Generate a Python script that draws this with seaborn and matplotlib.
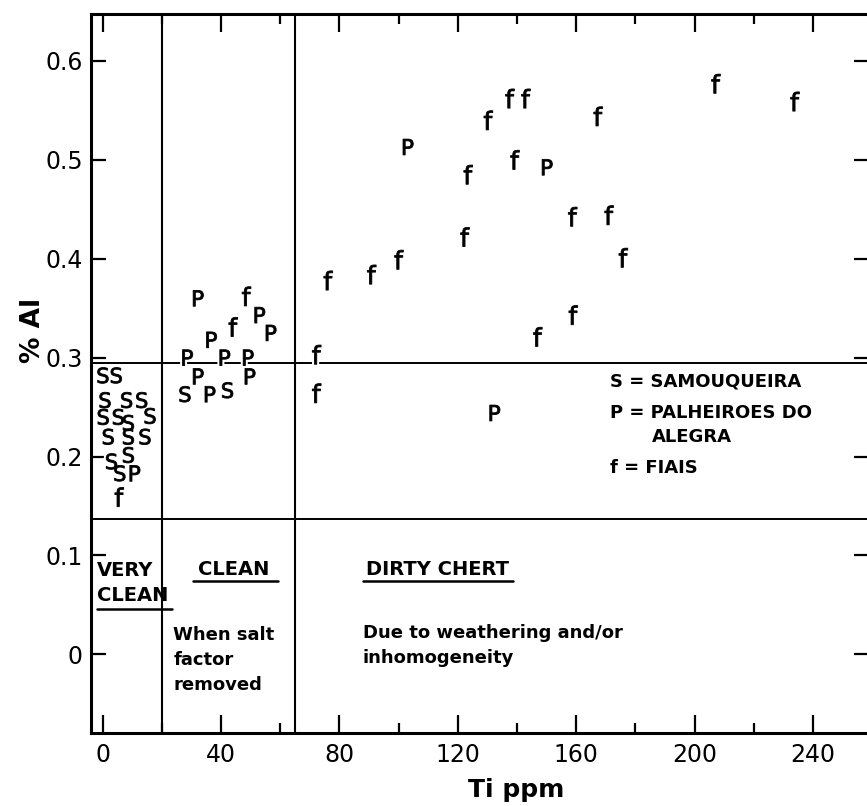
import matplotlib
matplotlib.use("Agg")
import matplotlib.pyplot as plt
import numpy as np
import pandas as pd
import seaborn as sns
from matplotlib.ticker import MultipleLocator, FixedLocator, FixedFormatter

# ---------------- data ----------------
s_ti = [0.1, 4.6, 0.8, 8.1, 13.2, 16.0, 0.2, 5.3, 8.7, 1.9, 8.7, 14.3, 3.0, 8.7, 5.8, 27.8, 42.2]
s_al = [0.282, 0.282, 0.257, 0.257, 0.257, 0.241, 0.240, 0.240, 0.234, 0.220, 0.220, 0.220,
        0.195, 0.2015, 0.183, 0.263, 0.267]

p_ti = [10.9, 32.3, 53.1, 56.9, 36.8, 28.7, 41.3, 49.2, 32.3, 49.8, 36.3, 103.2, 150.2, 132.5]
p_al = [0.183, 0.360, 0.343, 0.325, 0.318, 0.300, 0.300, 0.300, 0.281, 0.281, 0.263, 0.513,
        0.4925, 0.244]

f_ti = [5.6, 48.6, 44.1, 72.3, 72.3, 76.2, 90.9, 100.1, 122.4, 123.5, 130.3, 137.6, 143.0,
        139.3, 158.8, 167.4, 171.1, 175.9, 147.0, 159.0, 207.2, 233.9]
f_al = [0.159, 0.362, 0.331, 0.303, 0.264, 0.378, 0.384, 0.399, 0.422, 0.485, 0.540, 0.562,
        0.562, 0.500, 0.4425, 0.544, 0.444, 0.401, 0.321, 0.343, 0.577, 0.559]

x_ticks = [0, 40, 80, 120, 160, 200, 240]
y_ticks = [0, 0.1, 0.2, 0.3, 0.4, 0.5, 0.6]
y_tick_labels = ["0", "0.1", "0.2", "0.3", "0.4", "0.5", "0.6"]

legend_lines = ["S = SAMOUQUEIRA", "P = PALHEIROES DO", "ALEGRA", "f = FIAIS"]

df = pd.DataFrame({
    "ti": s_ti + p_ti + f_ti,
    "al": s_al + p_al + f_al,
    "site": ["S"] * len(s_ti) + ["P"] * len(p_ti) + ["f"] * len(f_ti),
})

# ---------------- style ----------------
sns.set_style("white")
plt.rcParams["font.family"] = ["DejaVu Sans"]
plt.rcParams["mathtext.fontset"] = "dejavusans"
plt.rcParams["text.color"] = "black"
plt.rcParams["axes.labelcolor"] = "black"
plt.rcParams["xtick.color"] = "black"
plt.rcParams["ytick.color"] = "black"

fig = plt.figure(figsize=(8.67, 8.06), dpi=100)
W, H = 867.0, 806.0
ax = fig.add_axes([91 / W, 73 / H, 778 / W, 718.7 / H])
ax.set_xlim(-3.95, 258.9)
ax.set_ylim(-0.0796, 0.6472)

markers = {"S": r"$\mathsf{S}$", "P": r"$\mathsf{P}$", "f": r"$\mathsf{f}$"}
sizes = {"S": 11.4 ** 2, "P": 11.4 ** 2, "f": 13.8 ** 2}

# white halo so that the divider lines break around the letters
sns.scatterplot(data=df, x="ti", y="al", style="site", markers=markers,
                size="site", sizes=sizes, color="white", edgecolor="white",
                linewidth=3.5, legend=False, ax=ax, zorder=3)
sns.scatterplot(data=df, x="ti", y="al", style="site", markers=markers,
                size="site", sizes=sizes, color="black", edgecolor="black",
                linewidth=0.6, legend=False, ax=ax, zorder=4)

# region dividers
ax.axvline(20, color="black", lw=1.5, zorder=2)
ax.axvline(65, color="black", lw=1.5, zorder=2)
ax.axhline(0.295, color="black", lw=1.4, zorder=2)
ax.axhline(0.137, color="black", lw=1.4, zorder=2)

# region labels
lab_kw = dict(fontsize=14, fontweight="bold", ha="left", va="center")
ax.text(-1.8, 0.085, "VERY", **lab_kw)
ax.text(-1.8, 0.059, "CLEAN", **lab_kw)
ax.plot([-2.0, 23.4], [0.0455, 0.0455], color="black", lw=1.8, zorder=2)

ax.text(32.3, 0.086, "CLEAN", **lab_kw)
ax.plot([30.4, 59.1], [0.0741, 0.0741], color="black", lw=1.8, zorder=2)

ax.text(89.0, 0.086, "DIRTY CHERT", **lab_kw)
ax.plot([87.8, 138.5], [0.0741, 0.0741], color="black", lw=1.8, zorder=2)

txt_kw = dict(fontsize=13, fontweight="bold", ha="left", va="center")
ax.text(23.9, 0.0195, "When salt", **txt_kw)
ax.text(23.9, -0.0058, "factor", **txt_kw)
ax.text(23.9, -0.031, "removed", **txt_kw)

ax.text(87.8, 0.0212, "Due to weathering and/or", **txt_kw)
ax.text(87.8, -0.0037, "inhomogeneity", **txt_kw)

# key
ax.text(171.4, 0.2757, legend_lines[0], **txt_kw)
ax.text(171.4, 0.2437, legend_lines[1], **txt_kw)
ax.text(185.5, 0.2200, legend_lines[2], **txt_kw)
ax.text(171.4, 0.1880, legend_lines[3], **txt_kw)

# ticks
ax.xaxis.set_major_locator(FixedLocator(x_ticks))
ax.xaxis.set_minor_locator(MultipleLocator(20))
ax.yaxis.set_major_locator(FixedLocator(y_ticks))
ax.yaxis.set_major_formatter(FixedFormatter(y_tick_labels))
ax.tick_params(axis="x", which="major", direction="in", top=True, bottom=True,
               length=13, width=1.6, labelsize=17, pad=7, color="black",
               labelcolor="black")
ax.tick_params(axis="x", which="minor", direction="in", top=True, bottom=True,
               length=7.5, width=1.6, color="black")
ax.tick_params(axis="y", which="major", direction="in", left=True, right=True,
               length=10.5, width=1.6, labelsize=17, pad=6, color="black",
               labelcolor="black")
ax.set_xlabel("")
ax.set_ylabel("")

for side in ["left", "bottom", "top"]:
    ax.spines[side].set_linewidth(2.2)
    ax.spines[side].set_color("black")
ax.spines["right"].set_visible(False)

fig.text(33 / W, 1 - 330 / H, "% Al", rotation=90, fontsize=19, fontweight="bold",
         ha="center", va="center")
fig.text(516 / W, 1 - 790 / H, "Ti ppm", fontsize=18, fontweight="bold",
         ha="center", va="center")

fig.savefig("out.png", dpi=100, facecolor="white")
